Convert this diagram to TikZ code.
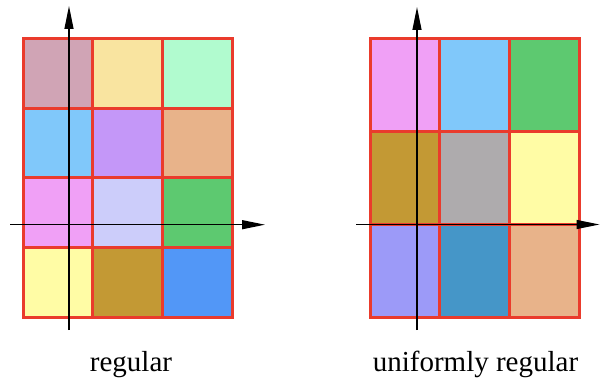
\documentclass[tikz,border=0pt]{standalone}
\usepackage{fontspec}
\setmainfont{Liberation Serif}
\usetikzlibrary{arrows.meta}

\definecolor{gridred}{HTML}{EA3B2C}
\definecolor{cMauve}{HTML}{D0A4B5}
\definecolor{cSand}{HTML}{F9E4A0}
\definecolor{cMint}{HTML}{B1FBCF}
\definecolor{cSky}{HTML}{80C8FA}
\definecolor{cLilac}{HTML}{C497F8}
\definecolor{cTan}{HTML}{E8B38A}
\definecolor{cPink}{HTML}{F0A0F6}
\definecolor{cPeri}{HTML}{CCCDFA}
\definecolor{cGreen}{HTML}{5DC970}
\definecolor{cLemon}{HTML}{FFFCA5}
\definecolor{cOlive}{HTML}{C39934}
\definecolor{cBlue}{HTML}{5297F7}
\definecolor{cGray}{HTML}{AEABAD}
\definecolor{cViolet}{HTML}{9C9AF8}
\definecolor{cSteel}{HTML}{4596C8}

\begin{document}
\begin{tikzpicture}[x=1pt, y=-1pt,
  cell/.style={draw=gridred, line width=3pt},
  axis/.style={line width=1.2pt, -{Triangle[length=23pt, width=9pt]}},
  caption/.style={font=\fontsize{29}{32}\selectfont, anchor=base}]
\useasboundingbox (0,0) rectangle (600,382);

% Regular grid (3 columns, 4 rows)
\foreach \col [count=\i from 0] in {cMauve, cSand, cMint, cSky, cLilac, cTan, cPink, cPeri, cGreen, cLemon, cOlive, cBlue}{
  \pgfmathsetmacro{\cx}{23+69.67*mod(\i,3)}
  \pgfmathsetmacro{\cy}{39+69.5*int(\i/3)}
  \filldraw[cell, fill=\col] (\cx,\cy) rectangle ++(69.67,69.5);
}

% Uniformly regular grid (3 columns, 3 rows)
\foreach \col [count=\i from 0] in {cPink, cSky, cGreen, cOlive, cGray, cLemon, cViolet, cSteel, cTan}{
  \pgfmathsetmacro{\cx}{370+69.67*mod(\i,3)}
  \pgfmathsetmacro{\cy}{39+92.67*int(\i/3)}
  \filldraw[cell, fill=\col] (\cx,\cy) rectangle ++(69.67,92.67);
}

% Axes, left
\coordinate (lyS) at (69,330);
\coordinate (lyE) at (69,6);
\coordinate (lxS) at (10,224.7);
\coordinate (lxE) at (265,224.7);
\draw[axis] (lyS) -- (lyE);
\draw[axis] (lxS) -- (lxE);

% Axes, right
\coordinate (ryS) at (417,330);
\coordinate (ryE) at (417,7);
\coordinate (rxS) at (356,224.5);
\coordinate (rxE) at (599.5,224.5);
\draw[axis] (ryS) -- (ryE);
\draw[axis] (rxS) -- (rxE);

% Captions
\node[caption] (lreg) at (131,371) {regular};
\node[caption] (ureg) at (475.5,371) {uniformly regular};
\end{tikzpicture}
\end{document}
